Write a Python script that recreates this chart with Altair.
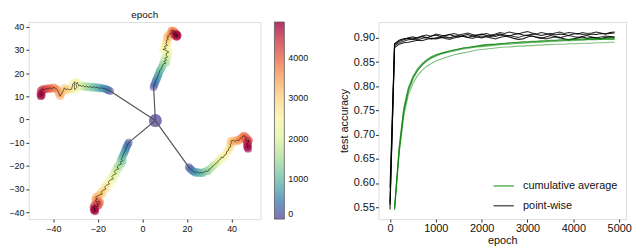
import altair as alt
import pandas as pd

# ---------------- left panel: trajectories coloured by epoch ----------------
ARM_EPOCHS = list(range(100, 5000, 100))
CENTER = (5.8, -0.5)

ARM_UP_X = [5.0, 5.3, 5.8, 6.0, 6.5, 6.8, 7.2, 7.5, 7.8, 8.3, 8.6, 9.0, 9.2, 10.5, 9.6, 10.8, 10.0, 11.3, 10.6, 10.8,
            11.8, 10.5, 9.2, 10.6, 9.8, 11.2, 10.4, 11.0, 10.6, 11.6, 11.0, 11.8, 11.2, 12.2, 12.8, 13.4, 13.0, 14.0,
            14.6, 14.2, 13.6, 14.2, 15.0, 15.6, 15.2, 14.6, 15.4, 15.8, 15.2]
ARM_UP_Y = [14.0, 15.0, 15.8, 16.8, 17.5, 18.5, 19.2, 20.2, 21.0, 21.6, 22.4, 23.0, 23.8, 24.3, 25.0, 25.6, 26.4, 27.0,
            27.6, 28.6, 29.0, 29.8, 30.2, 30.6, 31.4, 32.0, 32.6, 33.4, 34.0, 34.6, 35.2, 35.6, 36.0, 36.8, 37.2, 37.8,
            38.4, 38.2, 37.6, 37.0, 37.2, 36.6, 36.8, 36.4, 35.8, 36.2, 35.6, 36.2, 36.8]

ARM_LEFT_X = [-14.5, -15.3, -16.0, -16.8, -17.6, -18.5, -19.3, -20.2, -21.0, -21.8, -22.6, -23.4, -24.2, -25.0, -25.8,
              -26.5, -27.3, -28.0, -28.6, -29.2, -29.8, -29.4, -30.4, -30.6, -30.2, -31.2, -31.8, -32.8, -33.6, -34.2,
              -35.0, -35.6, -36.4, -36.9, -37.6, -38.2, -39.0, -40.0, -40.8, -41.6, -42.4, -43.2, -44.0, -44.8, -45.6,
              -45.2, -45.8, -45.2, -45.6]
ARM_LEFT_Y = [12.2, 12.6, 12.9, 13.2, 13.4, 13.6, 13.4, 13.9, 13.6, 14.1, 13.7, 14.2, 13.8, 14.3, 14.0, 14.6, 14.2, 14.8,
              14.4, 16.0, 15.2, 13.8, 12.8, 14.6, 16.2, 15.4, 13.0, 12.8, 13.2, 12.8, 13.6, 12.2, 11.0, 10.0, 11.4, 12.8,
              13.4, 13.8, 13.2, 13.6, 13.0, 13.4, 12.8, 13.0, 12.4, 11.6, 11.0, 10.4, 10.0]

ARM_DOWN_X = [-6.2, -6.6, -7.0, -7.4, -7.6, -8.0, -8.4, -8.8, -9.0, -9.6, -8.8, -10.0, -9.4, -10.8, -11.4, -10.6, -12.0,
              -12.6, -11.8, -13.2, -13.8, -13.0, -14.6, -15.4, -14.8, -16.2, -17.0, -16.4, -17.8, -18.6, -18.0, -19.4,
              -20.2, -21.0, -20.2, -21.2, -20.4, -19.6, -19.0, -19.6, -20.4, -19.8, -20.8, -21.6, -22.0, -21.2, -21.8,
              -21.2, -21.6]
ARM_DOWN_Y = [-10.0, -10.8, -11.6, -12.4, -13.2, -14.0, -14.8, -15.6, -16.4, -17.0, -17.8, -18.4, -19.2, -19.8, -20.6,
              -21.2, -21.8, -22.6, -23.4, -24.0, -24.8, -25.6, -26.2, -27.0, -27.8, -28.4, -29.2, -30.0, -30.6, -31.4,
              -32.2, -32.6, -33.2, -33.6, -34.4, -34.8, -35.6, -35.2, -35.8, -36.6, -36.2, -37.2, -37.6, -37.0, -38.0,
              -38.6, -39.2, -39.6, -38.8]

ARM_RIGHT_X = [20.8, 21.4, 22.0, 22.6, 23.2, 23.8, 24.6, 25.4, 26.2, 27.0, 27.8, 28.6, 29.4, 30.0, 30.8, 31.4, 32.2,
               32.8, 33.6, 34.2, 35.0, 35.4, 36.2, 36.8, 37.6, 37.8, 38.6, 38.8, 39.6, 39.4, 40.2, 39.6, 40.8, 41.6,
               42.4, 43.2, 43.8, 44.6, 45.4, 46.2, 46.8, 46.2, 47.0, 47.8, 47.4, 46.8, 47.4, 47.0, 47.4]
ARM_RIGHT_Y = [-20.6, -21.2, -21.8, -22.2, -22.6, -23.0, -22.6, -23.2, -22.8, -23.2, -22.6, -22.2, -22.4, -21.4, -21.0,
               -20.2, -19.8, -19.0, -18.6, -17.6, -17.2, -16.2, -16.6, -15.4, -15.0, -13.8, -13.4, -12.2, -11.8, -10.6,
               -10.0, -9.4, -9.0, -9.6, -8.8, -9.2, -8.4, -7.6, -7.0, -7.4, -8.2, -8.8, -9.4, -9.0, -10.0, -10.6, -11.2,
               -12.0, -12.6]

ARMS = {"up": (ARM_UP_X, ARM_UP_Y), "left": (ARM_LEFT_X, ARM_LEFT_Y),
        "down": (ARM_DOWN_X, ARM_DOWN_Y), "right": (ARM_RIGHT_X, ARM_RIGHT_Y)}

# ---------------- right panel: test accuracy ----------------
PW_EPOCHS = list(range(0, 5000, 100))
PW_1 = [0.555, 0.888, 0.895, 0.898, 0.899, 0.897, 0.901, 0.903, 0.900, 0.904, 0.906, 0.903, 0.905, 0.907, 0.904, 0.902,
        0.905, 0.907, 0.904, 0.906, 0.908, 0.905, 0.903, 0.906, 0.908, 0.906, 0.904, 0.907, 0.909, 0.906, 0.905, 0.908,
        0.907, 0.905, 0.907, 0.909, 0.906, 0.908, 0.907, 0.905, 0.908, 0.909, 0.907, 0.906, 0.908, 0.907, 0.909, 0.908,
        0.911, 0.912]
PW_2 = [0.545, 0.880, 0.887, 0.890, 0.891, 0.893, 0.895, 0.894, 0.897, 0.899, 0.898, 0.900, 0.902, 0.900, 0.903, 0.905,
        0.903, 0.901, 0.904, 0.902, 0.900, 0.903, 0.905, 0.903, 0.906, 0.904, 0.902, 0.899, 0.897, 0.898, 0.902, 0.904,
        0.901, 0.899, 0.902, 0.905, 0.903, 0.901, 0.898, 0.896, 0.898, 0.900, 0.902, 0.899, 0.901, 0.900, 0.898, 0.901,
        0.902, 0.901]
PW_3 = [0.590, 0.887, 0.893, 0.896, 0.900, 0.902, 0.899, 0.904, 0.906, 0.903, 0.908, 0.906, 0.904, 0.907, 0.909, 0.906,
        0.908, 0.910, 0.907, 0.905, 0.907, 0.909, 0.906, 0.908, 0.911, 0.909, 0.912, 0.910, 0.908, 0.911, 0.913, 0.910,
        0.908, 0.911, 0.909, 0.907, 0.910, 0.912, 0.909, 0.911, 0.910, 0.908, 0.911, 0.909, 0.910, 0.912, 0.910, 0.908,
        0.909, 0.910]
PW_4 = [0.560, 0.884, 0.890, 0.893, 0.896, 0.898, 0.896, 0.899, 0.901, 0.898, 0.900, 0.902, 0.899, 0.897, 0.900, 0.902,
        0.904, 0.901, 0.899, 0.902, 0.904, 0.902, 0.900, 0.898, 0.901, 0.903, 0.905, 0.903, 0.901, 0.904, 0.906, 0.904,
        0.902, 0.900, 0.898, 0.900, 0.902, 0.900, 0.903, 0.905, 0.903, 0.901, 0.903, 0.905, 0.902, 0.900, 0.902, 0.904,
        0.903, 0.902]

CA_EPOCHS = list(range(100, 5000, 100))
CA_1 = [0.545, 0.665, 0.745, 0.790, 0.815, 0.832, 0.844, 0.853, 0.859, 0.864, 0.867, 0.870, 0.873, 0.875, 0.877, 0.879,
        0.880, 0.882, 0.883, 0.885, 0.886, 0.887, 0.887, 0.888, 0.889, 0.890, 0.890, 0.891, 0.892, 0.892, 0.893, 0.893,
        0.894, 0.894, 0.895, 0.895, 0.896, 0.896, 0.897, 0.897, 0.897, 0.898, 0.898, 0.898, 0.899, 0.899, 0.899, 0.900,
        0.900]
CA_2 = [0.548, 0.675, 0.755, 0.797, 0.820, 0.836, 0.847, 0.855, 0.861, 0.865, 0.868, 0.871, 0.873, 0.875, 0.877, 0.879,
        0.880, 0.881, 0.883, 0.884, 0.885, 0.886, 0.887, 0.888, 0.888, 0.889, 0.890, 0.890, 0.891, 0.891, 0.892, 0.892,
        0.893, 0.893, 0.894, 0.894, 0.895, 0.895, 0.895, 0.896, 0.896, 0.896, 0.897, 0.897, 0.897, 0.898, 0.898, 0.898,
        0.898]
CA_3 = [0.550, 0.670, 0.750, 0.793, 0.817, 0.833, 0.844, 0.852, 0.858, 0.862, 0.866, 0.869, 0.871, 0.873, 0.875, 0.877,
        0.878, 0.880, 0.881, 0.882, 0.883, 0.884, 0.885, 0.886, 0.887, 0.887, 0.888, 0.889, 0.889, 0.890, 0.890, 0.891,
        0.891, 0.892, 0.892, 0.893, 0.893, 0.894, 0.894, 0.894, 0.895, 0.895, 0.896, 0.896, 0.896, 0.897, 0.897, 0.897,
        0.897]
CA_4 = [0.545, 0.660, 0.738, 0.782, 0.806, 0.822, 0.833, 0.841, 0.847, 0.852, 0.856, 0.859, 0.862, 0.865, 0.867, 0.869,
        0.871, 0.873, 0.875, 0.876, 0.877, 0.878, 0.879, 0.880, 0.881, 0.881, 0.882, 0.883, 0.883, 0.884, 0.884, 0.885,
        0.885, 0.886, 0.886, 0.887, 0.887, 0.887, 0.888, 0.888, 0.888, 0.889, 0.889, 0.889, 0.890, 0.890, 0.890, 0.891,
        0.891]

FONT = "Liberation Sans"

# ---- build tables ----
arm_rows, conn_rows = [], []
for name, (xs, ys) in ARMS.items():
    for e, x, y in zip(ARM_EPOCHS, xs, ys):
        arm_rows.append({"arm": name, "epoch": e, "x": x, "y": y})
    conn_rows.append({"arm": name, "k": 0, "x": CENTER[0], "y": CENTER[1]})
    conn_rows.append({"arm": name, "k": 1, "x": xs[0], "y": ys[0]})
arm_df = pd.DataFrame(arm_rows)
conn_df = pd.DataFrame(conn_rows)
center_df = pd.DataFrame([{"x": CENTER[0], "y": CENTER[1], "epoch": 0}])

xsc = alt.Scale(domain=[-51, 53], nice=False, zero=False)
ysc = alt.Scale(domain=[-43, 42], nice=False, zero=False)
lax = dict(labelFont=FONT, labelFontSize=9, labelColor="#111", tickColor="#333", tickSize=3,
           labelPadding=2, domain=False, grid=False, title=None)
X = alt.X("x:Q", scale=xsc, axis=alt.Axis(values=[-40, -20, 0, 20, 40], **lax))
Y = alt.Y("y:Q", scale=ysc, axis=alt.Axis(values=[-40, -30, -20, -10, 0, 10, 20, 30, 40], **lax))
cscale = alt.Scale(scheme="spectral", reverse=True, domain=[0, 4900])

LH = 199
points = alt.Chart(arm_df).mark_circle(size=62, opacity=0.6).encode(
    x=X, y=Y,
    color=alt.Color("epoch:Q", scale=cscale, legend=alt.Legend(
        title=None, orient="right", direction="vertical", gradientLength=LH, gradientThickness=10,
        values=[0, 1000, 2000, 3000, 4000], format="d", labelFont=FONT, labelFontSize=9, labelColor="#111",
        offset=14, labelOffset=4, gradientStrokeColor="#333", gradientStrokeWidth=0.8, gradientOpacity=1,
        labelBaseline="middle", padding=0)),
)
center = alt.Chart(center_df).mark_circle(size=170, opacity=0.8).encode(x=X, y=Y, color=alt.Color("epoch:Q", scale=cscale))
conn = alt.Chart(conn_df).mark_line(color="#555", strokeWidth=1.2).encode(x=X, y=Y, detail="arm:N", order="k:Q")
traj = alt.Chart(arm_df).mark_line(color="#111", strokeWidth=0.7, opacity=0.85).encode(
    x=X, y=Y, detail="arm:N", order="epoch:Q")

left = alt.layer(points, center, conn, traj).properties(
    width=234, height=LH,
    title=alt.TitleParams("epoch", font=FONT, fontSize=10, fontWeight="normal", color="#111", offset=2))

# ---- right ----
acc_rows = []
for sname, vals in [("p1", PW_1), ("p2", PW_2), ("p3", PW_3), ("p4", PW_4)]:
    for e, v in zip(PW_EPOCHS, vals):
        acc_rows.append({"series": sname, "kind": "point-wise", "epoch": e, "acc": v})
for sname, vals in [("c1", CA_1), ("c2", CA_2), ("c3", CA_3), ("c4", CA_4)]:
    for e, v in zip(CA_EPOCHS, vals):
        acc_rows.append({"series": sname, "kind": "cumulative average", "epoch": e, "acc": v})
acc_df = pd.DataFrame(acc_rows)

rax = dict(labelFont=FONT, labelFontSize=11, labelColor="#111", tickColor="#333", tickSize=3,
           labelPadding=1, domain=False, grid=False, titleFont=FONT, titleFontSize=11,
           titleFontWeight="normal", titleColor="#111")
right = alt.Chart(acc_df).mark_line(strokeWidth=1.1).encode(
    x=alt.X("epoch:Q", scale=alt.Scale(domain=[-252, 5150], nice=False, zero=False),
            axis=alt.Axis(values=[0, 1000, 2000, 3000, 4000, 5000], format="d", title="epoch",
                          titlePadding=1, **rax)),
    y=alt.Y("acc:Q", scale=alt.Scale(domain=[0.5253, 0.9328], nice=False, zero=False),
            axis=alt.Axis(values=[0.55, 0.60, 0.65, 0.70, 0.75, 0.80, 0.85, 0.90], format=".2f",
                          title="test accuracy", titlePadding=4, **rax)),
    color=alt.Color("kind:N", scale=alt.Scale(domain=["cumulative average", "point-wise"],
                                              range=["#008000", "#000000"]),
                    legend=alt.Legend(title=None, orient="bottom-right", offset=8, labelFont=FONT,
                                      labelFontSize=11, labelColor="#111", symbolType="stroke",
                                      symbolStrokeWidth=1.6, symbolSize=420, symbolOpacity=0.6,
                                      labelOffset=8, rowPadding=3, padding=0)),
    opacity=alt.Opacity("series:N", scale=alt.Scale(domain=["p1", "p2", "p3", "p4", "c1", "c2", "c3", "c4"],
                                                    range=[0.95, 0.5, 0.4, 0.6, 0.85, 0.6, 0.5, 0.45]),
                        legend=None),
    detail="series:N",
    order="epoch:Q",
).properties(width=250, height=LH)

chart = alt.hconcat(left, right, spacing=28).resolve_scale(
    color="independent", opacity="independent", x="independent", y="independent"
).properties(padding=0).configure_view(stroke="#333", strokeWidth=1).configure(font=FONT)

chart.save("out.html", embed_options={"renderer": "svg", "actions": False})
